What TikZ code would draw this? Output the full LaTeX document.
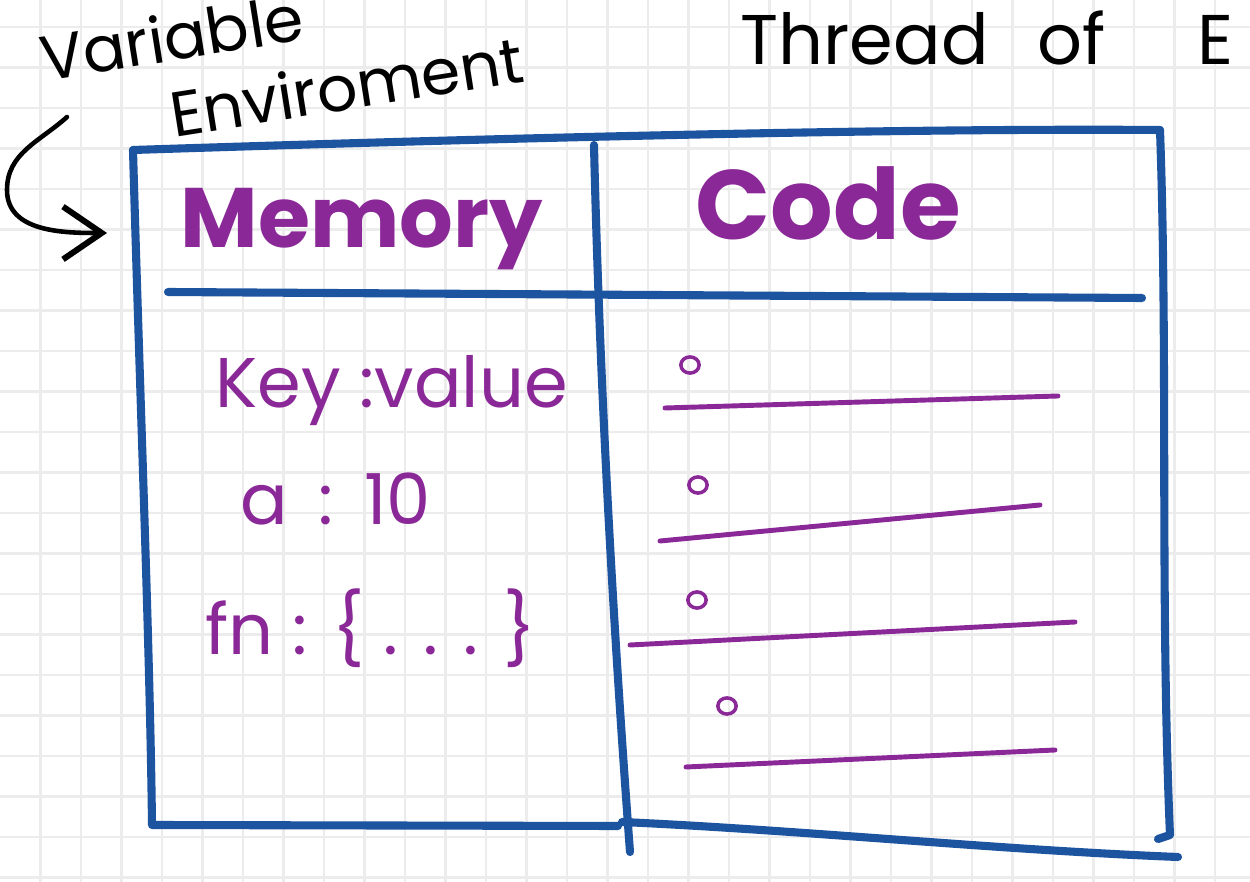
\documentclass[tikz,border=0pt]{standalone}
\usepackage{fontspec}
\setmainfont{Poppins}
\usetikzlibrary{positioning,arrows.meta}
\definecolor{inkblue}{RGB}{28,84,160}
\definecolor{inkpurple}{RGB}{138,40,152}
\definecolor{gridgray}{RGB}{236,236,236}
\tikzset{
  gridline/.style={gridgray,line width=0.6pt},
  boxline/.style={inkblue,line width=2.3pt,line cap=round,line join=round},
  penline/.style={inkpurple,line width=1.4pt,line cap=round},
  bulletring/.style={inkpurple,line width=1pt},
  inkarrow/.style={black,line width=1.3pt,line cap=round,-{Straight Barb[length=11pt,width=15pt,line width=1.7pt]}},
  blacknote/.style={font=\fontsize{18}{21.5}\selectfont,text=black,inner sep=0pt},
  headtxt/.style={font=\fontsize{28}{30}\selectfont\bfseries,text=inkpurple,inner sep=0pt,anchor=base west},
  memtxt/.style={font=\fontsize{20}{24}\selectfont,text=inkpurple,inner sep=0pt,anchor=base west}
}

\begin{document}
\begin{tikzpicture}[x=0.01cm,y=-0.01cm]
\useasboundingbox[fill=white] (0,0) rectangle (1250,882);
\foreach \gx in {1,...,30} {
    \draw[gridline] ({\gx*40.5},0) -- ({\gx*40.5},882);
}
\foreach \gy in {0,...,21} {
    \draw[gridline] (0,{27+\gy*40.5}) -- (1250,{27+\gy*40.5});
}

\node (varenvlbl) at (36,33) [blacknote,rotate=9,anchor=north west,align=left] {Variable\\\hspace*{34pt}Enviroment};
\node (threadlbl) at (740,65) [blacknote,anchor=base west,font=\fontsize{20}{22}\selectfont] {Thread\hspace{14pt}of\hspace{26pt}E};

\coordinate (arrowstart) at (67,117);
\coordinate (arrowbend) at (7,190);
\coordinate (arrowtip) at (107,233);
\draw[inkarrow] (arrowstart) to[out=222,in=90] (arrowbend) to[out=-90,in=180] (arrowtip);

\coordinate (boxtl) at (133,150);
\coordinate (boxtr) at (1160,130);
\coordinate (boxbr) at (1170,835);
\coordinate (boxbl) at (152,825);
\coordinate (divtop) at (594,145);
\coordinate (divbot) at (630,852);
\coordinate (headl) at (168,292);
\coordinate (headr) at (1142,298);
\draw[boxline] (boxtl) .. controls (500,138) and (900,128) .. (boxtr);
\draw[boxline] (boxtr) .. controls (1168,350) and (1160,600) .. (boxbr) -- ++(-12,4);
\draw[boxline] (boxtl) .. controls (140,400) and (150,650) .. (boxbl) -- (618,826);
\draw[boxline] (622,822) .. controls (800,830) and (1000,850) .. (1178,857);
\draw[boxline] (divtop) .. controls (600,400) and (615,650) .. (divbot);
\draw[boxline] (headl) -- (headr);

\node (memhead) at (180,248) [headtxt,font=\fontsize{24}{26}\selectfont\bfseries] {Memory};
\node (codehead) at (695,240) [headtxt] {Code};
\node (keyrow) at (215,408) [memtxt] {Key :value};
\node (arow) at (240,525) [memtxt] {a \,:\ \,10};
\node (fnrow) at (205,655) [memtxt] {fn : \{ . . . \}};

\foreach \bx/\by/\lx/\ly/\rx/\ry in {690/365/665/408/1058/396, 698/485/660/541/1040/505, 697/600/630/645/1075/622, 727/706/686/767/1055/750} {
    \draw[bulletring] (\bx,\by) ellipse [x radius=2.6pt,y radius=2.3pt];
    \draw[penline] (\lx,\ly) -- (\rx,\ry);
}
\end{tikzpicture}
\end{document}
